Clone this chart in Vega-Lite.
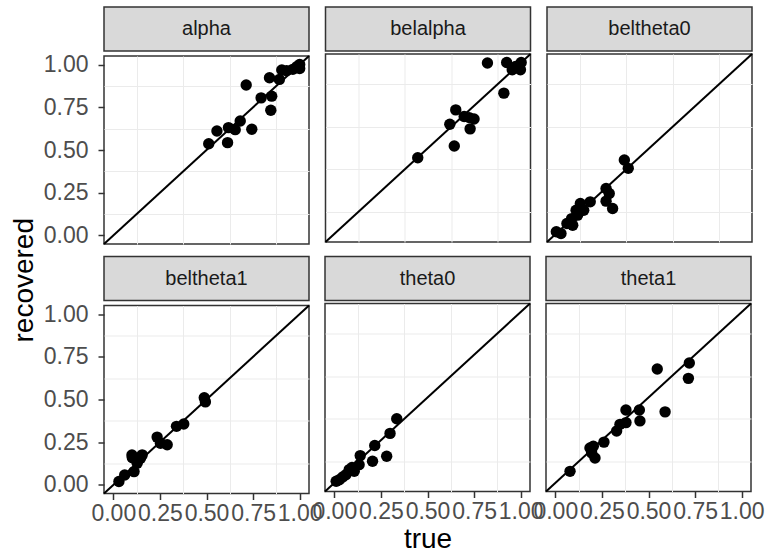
{
  "$schema": "https://vega.github.io/schema/vega-lite/v6.json",
  "background": "white",
  "padding": {"left": 11, "top": 6, "right": 2, "bottom": 0},
  "autosize": {"type": "pad"},
  "datasets": {
    "points": [
      {"panel": "alpha", "true": 0.512, "recovered": 0.537},
      {"panel": "alpha", "true": 0.556, "recovered": 0.611},
      {"panel": "alpha", "true": 0.613, "recovered": 0.543},
      {"panel": "alpha", "true": 0.618, "recovered": 0.631},
      {"panel": "alpha", "true": 0.654, "recovered": 0.619},
      {"panel": "alpha", "true": 0.681, "recovered": 0.670},
      {"panel": "alpha", "true": 0.743, "recovered": 0.621},
      {"panel": "alpha", "true": 0.713, "recovered": 0.880},
      {"panel": "alpha", "true": 0.793, "recovered": 0.805},
      {"panel": "alpha", "true": 0.850, "recovered": 0.815},
      {"panel": "alpha", "true": 0.845, "recovered": 0.733},
      {"panel": "alpha", "true": 0.838, "recovered": 0.923},
      {"panel": "alpha", "true": 0.891, "recovered": 0.913},
      {"panel": "alpha", "true": 0.904, "recovered": 0.968},
      {"panel": "alpha", "true": 0.930, "recovered": 0.964},
      {"panel": "alpha", "true": 0.963, "recovered": 0.972},
      {"panel": "alpha", "true": 0.984, "recovered": 0.987},
      {"panel": "alpha", "true": 1.000, "recovered": 1.000},
      {"panel": "alpha", "true": 1.000, "recovered": 0.977},
      {"panel": "belalpha", "true": 0.445, "recovered": 0.443},
      {"panel": "belalpha", "true": 0.641, "recovered": 0.512},
      {"panel": "belalpha", "true": 0.617, "recovered": 0.639},
      {"panel": "belalpha", "true": 0.649, "recovered": 0.723},
      {"panel": "belalpha", "true": 0.694, "recovered": 0.684},
      {"panel": "belalpha", "true": 0.721, "recovered": 0.678},
      {"panel": "belalpha", "true": 0.747, "recovered": 0.670},
      {"panel": "belalpha", "true": 0.726, "recovered": 0.612},
      {"panel": "belalpha", "true": 0.819, "recovered": 0.997},
      {"panel": "belalpha", "true": 0.907, "recovered": 0.821},
      {"panel": "belalpha", "true": 0.922, "recovered": 1.000},
      {"panel": "belalpha", "true": 0.952, "recovered": 0.958},
      {"panel": "belalpha", "true": 0.970, "recovered": 0.977},
      {"panel": "belalpha", "true": 0.996, "recovered": 0.958},
      {"panel": "belalpha", "true": 1.000, "recovered": 1.000},
      {"panel": "beltheta0", "true": 0.000, "recovered": 0.010},
      {"panel": "beltheta0", "true": 0.025, "recovered": 0.000},
      {"panel": "beltheta0", "true": 0.057, "recovered": 0.058},
      {"panel": "beltheta0", "true": 0.088, "recovered": 0.048},
      {"panel": "beltheta0", "true": 0.082, "recovered": 0.087},
      {"panel": "beltheta0", "true": 0.114, "recovered": 0.107},
      {"panel": "beltheta0", "true": 0.106, "recovered": 0.136},
      {"panel": "beltheta0", "true": 0.129, "recovered": 0.175},
      {"panel": "beltheta0", "true": 0.147, "recovered": 0.136},
      {"panel": "beltheta0", "true": 0.182, "recovered": 0.185},
      {"panel": "beltheta0", "true": 0.267, "recovered": 0.263},
      {"panel": "beltheta0", "true": 0.284, "recovered": 0.234},
      {"panel": "beltheta0", "true": 0.267, "recovered": 0.189},
      {"panel": "beltheta0", "true": 0.302, "recovered": 0.146},
      {"panel": "beltheta0", "true": 0.365, "recovered": 0.430},
      {"panel": "beltheta0", "true": 0.386, "recovered": 0.381},
      {"panel": "beltheta1", "true": 0.030, "recovered": 0.020},
      {"panel": "beltheta1", "true": 0.061, "recovered": 0.058},
      {"panel": "beltheta1", "true": 0.102, "recovered": 0.160},
      {"panel": "beltheta1", "true": 0.111, "recovered": 0.078},
      {"panel": "beltheta1", "true": 0.128, "recovered": 0.127},
      {"panel": "beltheta1", "true": 0.155, "recovered": 0.176},
      {"panel": "beltheta1", "true": 0.146, "recovered": 0.156},
      {"panel": "beltheta1", "true": 0.100, "recovered": 0.175},
      {"panel": "beltheta1", "true": 0.235, "recovered": 0.280},
      {"panel": "beltheta1", "true": 0.253, "recovered": 0.244},
      {"panel": "beltheta1", "true": 0.289, "recovered": 0.235},
      {"panel": "beltheta1", "true": 0.339, "recovered": 0.343},
      {"panel": "beltheta1", "true": 0.378, "recovered": 0.357},
      {"panel": "beltheta1", "true": 0.488, "recovered": 0.510},
      {"panel": "beltheta1", "true": 0.494, "recovered": 0.486},
      {"panel": "theta0", "true": 0.010, "recovered": 0.010},
      {"panel": "theta0", "true": 0.027, "recovered": 0.019},
      {"panel": "theta0", "true": 0.045, "recovered": 0.035},
      {"panel": "theta0", "true": 0.062, "recovered": 0.048},
      {"panel": "theta0", "true": 0.080, "recovered": 0.078},
      {"panel": "theta0", "true": 0.095, "recovered": 0.090},
      {"panel": "theta0", "true": 0.107, "recovered": 0.068},
      {"panel": "theta0", "true": 0.133, "recovered": 0.107},
      {"panel": "theta0", "true": 0.139, "recovered": 0.160},
      {"panel": "theta0", "true": 0.205, "recovered": 0.127},
      {"panel": "theta0", "true": 0.217, "recovered": 0.219},
      {"panel": "theta0", "true": 0.281, "recovered": 0.156},
      {"panel": "theta0", "true": 0.299, "recovered": 0.290},
      {"panel": "theta0", "true": 0.335, "recovered": 0.376},
      {"panel": "theta1", "true": 0.079, "recovered": 0.068},
      {"panel": "theta1", "true": 0.186, "recovered": 0.205},
      {"panel": "theta1", "true": 0.195, "recovered": 0.176},
      {"panel": "theta1", "true": 0.213, "recovered": 0.146},
      {"panel": "theta1", "true": 0.204, "recovered": 0.215},
      {"panel": "theta1", "true": 0.261, "recovered": 0.239},
      {"panel": "theta1", "true": 0.329, "recovered": 0.304},
      {"panel": "theta1", "true": 0.347, "recovered": 0.343},
      {"panel": "theta1", "true": 0.379, "recovered": 0.353},
      {"panel": "theta1", "true": 0.379, "recovered": 0.427},
      {"panel": "theta1", "true": 0.451, "recovered": 0.427},
      {"panel": "theta1", "true": 0.454, "recovered": 0.363},
      {"panel": "theta1", "true": 0.547, "recovered": 0.667},
      {"panel": "theta1", "true": 0.589, "recovered": 0.416},
      {"panel": "theta1", "true": 0.719, "recovered": 0.702},
      {"panel": "theta1", "true": 0.714, "recovered": 0.612}
    ],
    "panels": [
      {"panel": "alpha"}, {"panel": "belalpha"}, {"panel": "beltheta0"},
      {"panel": "beltheta1"}, {"panel": "theta0"}, {"panel": "theta1"}
    ],
    "diag": [{"from": -0.05, "to": 1.05}]
  },
  "title": {"text": "recovered", "orient": "left", "anchor": "middle", "fontSize": 28, "fontWeight": "normal", "color": "black", "font": "Liberation Sans", "offset": 3},
  "spacing": 6.5,
  "vconcat": [
    {
      "spacing": 12.5,
      "hconcat": [
        {"spacing": 0, "vconcat": [
          {"width": 205, "height": 44, "view": {"fill": "#D9D9D9", "stroke": "#333333", "strokeWidth": 1.5},
           "data": {"name": "panels"}, "transform": [{"filter": {"field": "panel", "equal": "alpha"}}],
           "mark": {"type": "text", "fontSize": 20, "color": "#1A1A1A"}, "encoding": {"text": {"field": "panel"}}},
          {"width": 205, "height": 188,
           "layer": [
             {"data": {"name": "diag"}, "mark": {"type": "rule", "color": "black", "strokeWidth": 2},
              "encoding": {
                "x": {"field": "from", "type": "quantitative", "scale": {"domain": [-0.05, 1.05], "nice": false, "zero": false}, "axis": {"orient": "top", "values": [0.125, 0.375, 0.625, 0.875], "labels": false, "ticks": false, "title": null, "gridWidth": 1}},
                "y": {"field": "from", "type": "quantitative", "scale": {"domain": [-0.05, 1.05], "nice": false, "zero": false}, "axis": {"orient": "right", "values": [0.125, 0.375, 0.625, 0.875], "labels": false, "ticks": false, "title": null, "gridWidth": 1}},
                "x2": {"field": "to"}, "y2": {"field": "to"}}},
             {"data": {"name": "points"}, "transform": [{"filter": {"field": "panel", "equal": "alpha"}}],
              "mark": {"type": "circle", "size": 130, "color": "black", "opacity": 1},
              "encoding": {
                "x": {"field": "true", "type": "quantitative", "scale": {"domain": [-0.05, 1.05], "nice": false, "zero": false}, "axis": {"orient": "bottom", "values": [0, 0.25, 0.5, 0.75, 1], "labels": false, "ticks": false, "title": null}},
                "y": {"field": "recovered", "type": "quantitative", "scale": {"domain": [-0.05, 1.05], "nice": false, "zero": false}, "axis": {"orient": "left", "values": [0, 0.25, 0.5, 0.75, 1], "format": ".2f", "title": null}}}}
           ],
           "resolve": {"axis": {"x": "independent", "y": "independent"}}}
        ]},
        {"spacing": 0, "vconcat": [
          {"width": 205, "height": 44, "view": {"fill": "#D9D9D9", "stroke": "#333333", "strokeWidth": 1.5},
           "data": {"name": "panels"}, "transform": [{"filter": {"field": "panel", "equal": "belalpha"}}],
           "mark": {"type": "text", "fontSize": 20, "color": "#1A1A1A"}, "encoding": {"text": {"field": "panel"}}},
          {"width": 205, "height": 188,
           "layer": [
             {"data": {"name": "diag"}, "mark": {"type": "rule", "color": "black", "strokeWidth": 2},
              "encoding": {
                "x": {"field": "from", "type": "quantitative", "scale": {"domain": [-0.05, 1.05], "nice": false, "zero": false}, "axis": {"orient": "top", "values": [0.125, 0.375, 0.625, 0.875], "labels": false, "ticks": false, "title": null, "gridWidth": 1}},
                "y": {"field": "from", "type": "quantitative", "scale": {"domain": [-0.05, 1.05], "nice": false, "zero": false}, "axis": {"orient": "right", "values": [0.125, 0.375, 0.625, 0.875], "labels": false, "ticks": false, "title": null, "gridWidth": 1}},
                "x2": {"field": "to"}, "y2": {"field": "to"}}},
             {"data": {"name": "points"}, "transform": [{"filter": {"field": "panel", "equal": "belalpha"}}],
              "mark": {"type": "circle", "size": 130, "color": "black", "opacity": 1},
              "encoding": {
                "x": {"field": "true", "type": "quantitative", "scale": {"domain": [-0.05, 1.05], "nice": false, "zero": false}, "axis": {"orient": "bottom", "values": [0, 0.25, 0.5, 0.75, 1], "labels": false, "ticks": false, "title": null}},
                "y": {"field": "recovered", "type": "quantitative", "scale": {"domain": [-0.05, 1.05], "nice": false, "zero": false}, "axis": {"orient": "left", "values": [0, 0.25, 0.5, 0.75, 1], "labels": false, "ticks": false, "title": null}}}}
           ],
           "resolve": {"axis": {"x": "independent", "y": "independent"}}}
        ]},
        {"spacing": 0, "vconcat": [
          {"width": 205, "height": 44, "view": {"fill": "#D9D9D9", "stroke": "#333333", "strokeWidth": 1.5},
           "data": {"name": "panels"}, "transform": [{"filter": {"field": "panel", "equal": "beltheta0"}}],
           "mark": {"type": "text", "fontSize": 20, "color": "#1A1A1A"}, "encoding": {"text": {"field": "panel"}}},
          {"width": 205, "height": 188,
           "layer": [
             {"data": {"name": "diag"}, "mark": {"type": "rule", "color": "black", "strokeWidth": 2},
              "encoding": {
                "x": {"field": "from", "type": "quantitative", "scale": {"domain": [-0.05, 1.05], "nice": false, "zero": false}, "axis": {"orient": "top", "values": [0.125, 0.375, 0.625, 0.875], "labels": false, "ticks": false, "title": null, "gridWidth": 1}},
                "y": {"field": "from", "type": "quantitative", "scale": {"domain": [-0.05, 1.05], "nice": false, "zero": false}, "axis": {"orient": "right", "values": [0.125, 0.375, 0.625, 0.875], "labels": false, "ticks": false, "title": null, "gridWidth": 1}},
                "x2": {"field": "to"}, "y2": {"field": "to"}}},
             {"data": {"name": "points"}, "transform": [{"filter": {"field": "panel", "equal": "beltheta0"}}],
              "mark": {"type": "circle", "size": 130, "color": "black", "opacity": 1},
              "encoding": {
                "x": {"field": "true", "type": "quantitative", "scale": {"domain": [-0.05, 1.05], "nice": false, "zero": false}, "axis": {"orient": "bottom", "values": [0, 0.25, 0.5, 0.75, 1], "labels": false, "ticks": false, "title": null}},
                "y": {"field": "recovered", "type": "quantitative", "scale": {"domain": [-0.05, 1.05], "nice": false, "zero": false}, "axis": {"orient": "left", "values": [0, 0.25, 0.5, 0.75, 1], "labels": false, "ticks": false, "title": null}}}}
           ],
           "resolve": {"axis": {"x": "independent", "y": "independent"}}}
        ]}
      ]
    },
    {
      "spacing": -12,
      "hconcat": [
        {"spacing": 0, "vconcat": [
          {"width": 205, "height": 44, "view": {"fill": "#D9D9D9", "stroke": "#333333", "strokeWidth": 1.5},
           "data": {"name": "panels"}, "transform": [{"filter": {"field": "panel", "equal": "beltheta1"}}],
           "mark": {"type": "text", "fontSize": 20, "color": "#1A1A1A"}, "encoding": {"text": {"field": "panel"}}},
          {"width": 205, "height": 188,
           "layer": [
             {"data": {"name": "diag"}, "mark": {"type": "rule", "color": "black", "strokeWidth": 2},
              "encoding": {
                "x": {"field": "from", "type": "quantitative", "scale": {"domain": [-0.05, 1.05], "nice": false, "zero": false}, "axis": {"orient": "top", "values": [0.125, 0.375, 0.625, 0.875], "labels": false, "ticks": false, "title": null, "gridWidth": 1}},
                "y": {"field": "from", "type": "quantitative", "scale": {"domain": [-0.05, 1.05], "nice": false, "zero": false}, "axis": {"orient": "right", "values": [0.125, 0.375, 0.625, 0.875], "labels": false, "ticks": false, "title": null, "gridWidth": 1}},
                "x2": {"field": "to"}, "y2": {"field": "to"}}},
             {"data": {"name": "points"}, "transform": [{"filter": {"field": "panel", "equal": "beltheta1"}}],
              "mark": {"type": "circle", "size": 130, "color": "black", "opacity": 1},
              "encoding": {
                "x": {"field": "true", "type": "quantitative", "scale": {"domain": [-0.05, 1.05], "nice": false, "zero": false}, "axis": {"orient": "bottom", "values": [0, 0.25, 0.5, 0.75, 1], "format": ".2f", "title": null}},
                "y": {"field": "recovered", "type": "quantitative", "scale": {"domain": [-0.05, 1.05], "nice": false, "zero": false}, "axis": {"orient": "left", "values": [0, 0.25, 0.5, 0.75, 1], "format": ".2f", "title": null}}}}
           ],
           "resolve": {"axis": {"x": "independent", "y": "independent"}}}
        ]},
        {"spacing": 0, "vconcat": [
          {"width": 205, "height": 44, "view": {"fill": "#D9D9D9", "stroke": "#333333", "strokeWidth": 1.5},
           "data": {"name": "panels"}, "transform": [{"filter": {"field": "panel", "equal": "theta0"}}],
           "mark": {"type": "text", "fontSize": 20, "color": "#1A1A1A"}, "encoding": {"text": {"field": "panel"}}},
          {"width": 205, "height": 188,
           "layer": [
             {"data": {"name": "diag"}, "mark": {"type": "rule", "color": "black", "strokeWidth": 2},
              "encoding": {
                "x": {"field": "from", "type": "quantitative", "scale": {"domain": [-0.05, 1.05], "nice": false, "zero": false}, "axis": {"orient": "top", "values": [0.125, 0.375, 0.625, 0.875], "labels": false, "ticks": false, "title": null, "gridWidth": 1}},
                "y": {"field": "from", "type": "quantitative", "scale": {"domain": [-0.05, 1.05], "nice": false, "zero": false}, "axis": {"orient": "right", "values": [0.125, 0.375, 0.625, 0.875], "labels": false, "ticks": false, "title": null, "gridWidth": 1}},
                "x2": {"field": "to"}, "y2": {"field": "to"}}},
             {"data": {"name": "points"}, "transform": [{"filter": {"field": "panel", "equal": "theta0"}}],
              "mark": {"type": "circle", "size": 130, "color": "black", "opacity": 1},
              "encoding": {
                "x": {"field": "true", "type": "quantitative", "scale": {"domain": [-0.05, 1.05], "nice": false, "zero": false}, "axis": {"orient": "bottom", "values": [0, 0.25, 0.5, 0.75, 1], "format": ".2f", "title": "true", "titleFontSize": 28, "titleFontWeight": "normal", "titleColor": "black", "titlePadding": 2}},
                "y": {"field": "recovered", "type": "quantitative", "scale": {"domain": [-0.05, 1.05], "nice": false, "zero": false}, "axis": {"orient": "left", "values": [0, 0.25, 0.5, 0.75, 1], "labels": false, "ticks": false, "title": null}}}}
           ],
           "resolve": {"axis": {"x": "independent", "y": "independent"}}}
        ]},
        {"spacing": 0, "vconcat": [
          {"width": 205, "height": 44, "view": {"fill": "#D9D9D9", "stroke": "#333333", "strokeWidth": 1.5},
           "data": {"name": "panels"}, "transform": [{"filter": {"field": "panel", "equal": "theta1"}}],
           "mark": {"type": "text", "fontSize": 20, "color": "#1A1A1A"}, "encoding": {"text": {"field": "panel"}}},
          {"width": 205, "height": 188,
           "layer": [
             {"data": {"name": "diag"}, "mark": {"type": "rule", "color": "black", "strokeWidth": 2},
              "encoding": {
                "x": {"field": "from", "type": "quantitative", "scale": {"domain": [-0.05, 1.05], "nice": false, "zero": false}, "axis": {"orient": "top", "values": [0.125, 0.375, 0.625, 0.875], "labels": false, "ticks": false, "title": null, "gridWidth": 1}},
                "y": {"field": "from", "type": "quantitative", "scale": {"domain": [-0.05, 1.05], "nice": false, "zero": false}, "axis": {"orient": "right", "values": [0.125, 0.375, 0.625, 0.875], "labels": false, "ticks": false, "title": null, "gridWidth": 1}},
                "x2": {"field": "to"}, "y2": {"field": "to"}}},
             {"data": {"name": "points"}, "transform": [{"filter": {"field": "panel", "equal": "theta1"}}],
              "mark": {"type": "circle", "size": 130, "color": "black", "opacity": 1},
              "encoding": {
                "x": {"field": "true", "type": "quantitative", "scale": {"domain": [-0.05, 1.05], "nice": false, "zero": false}, "axis": {"orient": "bottom", "values": [0, 0.25, 0.5, 0.75, 1], "format": ".2f", "title": null}},
                "y": {"field": "recovered", "type": "quantitative", "scale": {"domain": [-0.05, 1.05], "nice": false, "zero": false}, "axis": {"orient": "left", "values": [0, 0.25, 0.5, 0.75, 1], "labels": false, "ticks": false, "title": null}}}}
           ],
           "resolve": {"axis": {"x": "independent", "y": "independent"}}}
        ]}
      ]
    }
  ],
  "config": {
    "font": "Liberation Sans",
    "view": {"stroke": "#333333", "strokeWidth": 1.5},
    "axis": {
      "labelFont": "Liberation Sans", "titleFont": "Liberation Sans",
      "labelFontSize": 23, "labelColor": "#4D4D4D",
      "tickColor": "#333333", "tickSize": 6, "tickWidth": 1.5,
      "labelOverlap": false, "labelFlush": false,
      "domain": false, "grid": true, "gridColor": "#EBEBEB", "gridWidth": 2
    },
    "axisX": {"labelPadding": 3},
    "axisY": {"labelPadding": 10}
  }
}
